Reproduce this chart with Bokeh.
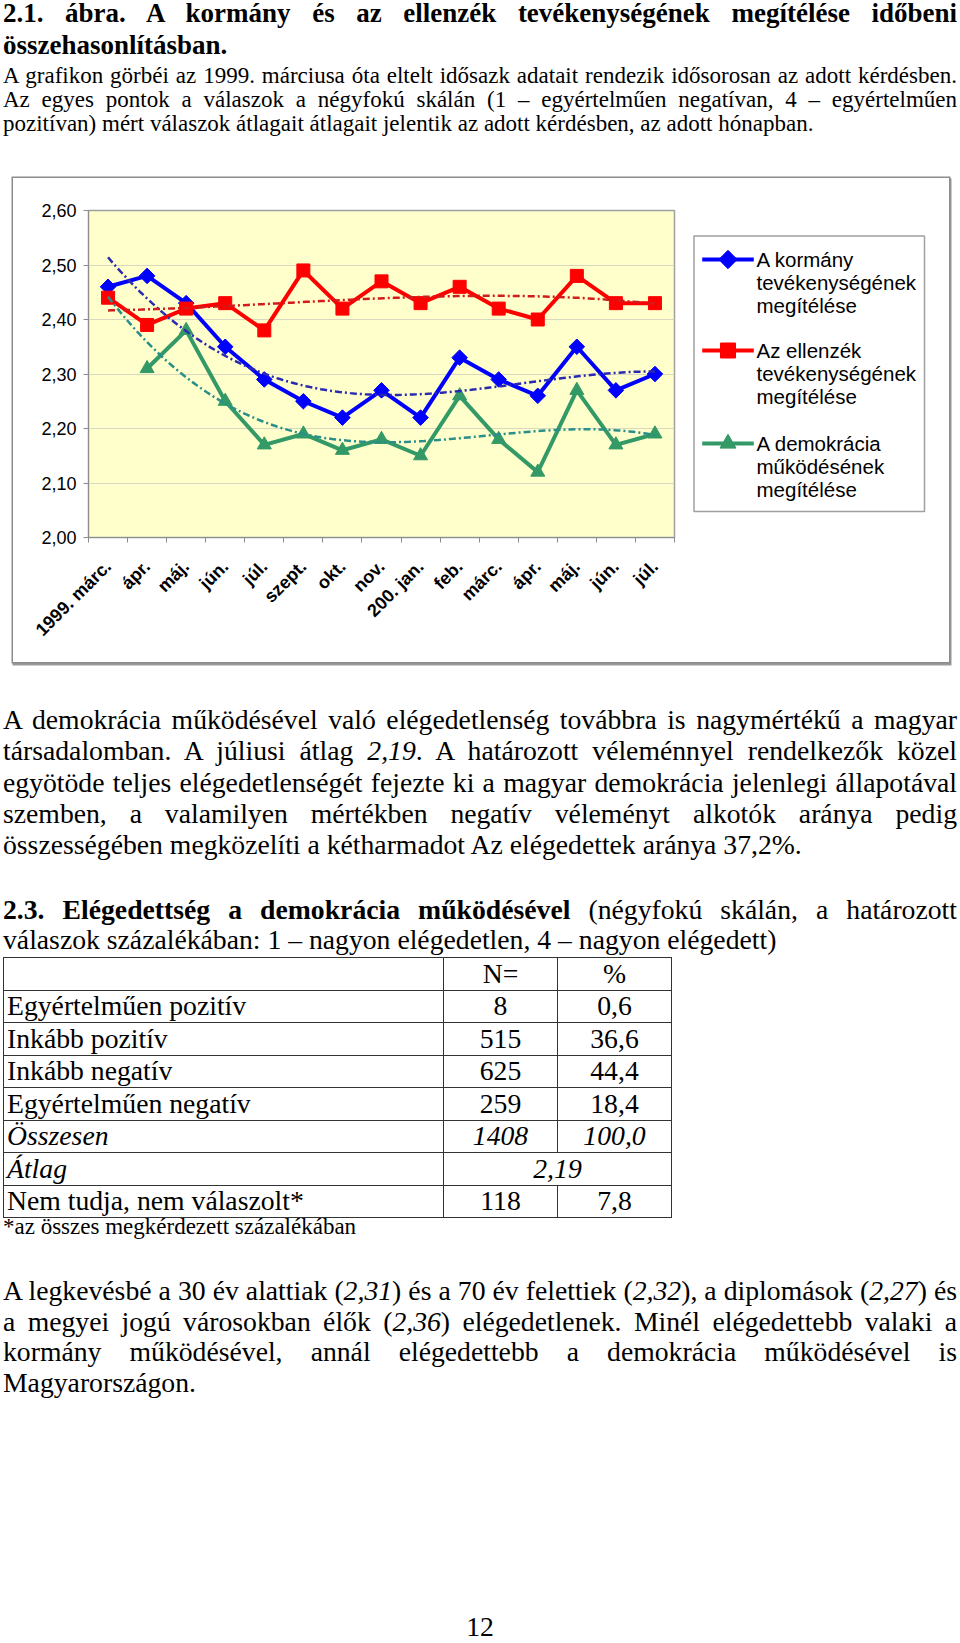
import numpy as np
from bokeh.plotting import figure
from bokeh.models import Range1d, FixedTicker, CustomJSTickFormatter, Div, ColumnDataSource
from bokeh.layouts import column, row
from bokeh.embed import file_html
from bokeh.resources import INLINE
from bokeh.core.properties import value

# ---------------- data ----------------
categories = ["1999. márc.", "ápr.", "máj.", "jún.", "júl.", "szept.", "okt.", "nov.",
              "200. jan.", "feb.", "márc.", "ápr.", "máj.", "jún.", "júl."]
kormany = [2.46, 2.48, 2.43, 2.35, 2.29, 2.25, 2.22, 2.27, 2.22, 2.33, 2.29, 2.26, 2.35, 2.27, 2.30]
ellenzek = [2.44, 2.39, 2.42, 2.43, 2.38, 2.49, 2.42, 2.47, 2.43, 2.46, 2.42, 2.40, 2.48, 2.43, 2.43]
demokracia = [None, 2.31, 2.38, 2.25, 2.17, 2.19, 2.16, 2.18, 2.15, 2.26, 2.18, 2.12, 2.27, 2.17, 2.19]
y_ticks = [2.0, 2.1, 2.2, 2.3, 2.4, 2.5, 2.6]
legend_labels = ["A kormány\ntevékenységének\nmegítélése",
                 "Az ellenzék\ntevékenységének\nmegítélése",
                 "A demokrácia\nműködésének\nmegítélése"]

table_labels = ["Egyértelműen pozitív", "Inkább pozitív", "Inkább negatív", "Egyértelműen negatív"]
table_n = ["8", "515", "625", "259"]
table_pct = ["0,6", "36,6", "44,4", "18,4"]
total_n, total_pct = "1408", "100,0"
atlag = "2,19"
nt_n, nt_pct = "118", "7,8"

# ---------------- styles ----------------
colors = ["#0000ff", "#ff0000", "#339966"]
trend_colors = ["#2a2ab0", "#d01c1c", "#2a8f8a"]
markers = [("square", 11, np.pi / 4), ("square", 13, 0.0), ("triangle", 14, 0.0)]
SANS = "Liberation Sans"

FIG_H = 484
B_TOP, B_BOT = 32, 125


def clean(v):
    return [np.nan if a is None else a for a in v]


def trend(vals, deg=3):
    pts = [(i + 1, v) for i, v in enumerate(vals) if v is not None]
    xs = np.array([a for a, _ in pts], float)
    ys = np.array([b for _, b in pts], float)
    coef = np.polyfit(xs, ys, deg)
    xd = np.linspace(1, len(vals), 150)
    return xd - 1, np.polyval(coef, xd)


x = list(range(len(categories)))
series = [kormany, ellenzek, demokracia]
src = ColumnDataSource(dict(x=x, s0=clean(kormany), s1=clean(ellenzek), s2=clean(demokracia)))

p = figure(width=671, height=FIG_H, x_range=Range1d(-0.5, len(categories) - 0.5),
           y_range=Range1d(2.0, 2.6), output_backend="svg", toolbar_location=None,
           min_border_left=75, min_border_right=10, min_border_top=B_TOP, min_border_bottom=B_BOT)
p.background_fill_color = "#ffffcc"
p.border_fill_color = "white"
p.outline_line_color = "#a0a0a0"
p.outline_line_width = 1.5
p.xgrid.visible = False
p.ygrid.ticker = FixedTicker(ticks=y_ticks)
p.ygrid.grid_line_color = "#d8d8c0"
p.ygrid.grid_line_width = 1

p.yaxis.ticker = FixedTicker(ticks=y_ticks)
p.yaxis.formatter = CustomJSTickFormatter(code="return tick.toFixed(2).replace('.', ',');")
p.yaxis.major_tick_out = 5
p.yaxis.major_tick_in = 0
p.yaxis.minor_tick_line_color = None
p.yaxis.axis_line_color = "#8c8c8c"
p.yaxis.major_tick_line_color = "#8c8c8c"
p.yaxis.major_label_text_font = SANS
p.yaxis.major_label_text_font_size = "18px"
p.yaxis.major_label_text_color = "#000000"
p.yaxis.major_label_standoff = 7

p.xaxis.ticker = FixedTicker(ticks=x, minor_ticks=[i - 0.5 for i in range(len(categories) + 1)])
p.xaxis.formatter = CustomJSTickFormatter(args=dict(labels=categories),
    code="const i = Math.round(tick); return (i >= 0 && i < labels.length) ? labels[i] : '';")
p.xaxis.major_tick_line_color = None
p.xaxis.minor_tick_out = 5
p.xaxis.minor_tick_in = 0
p.xaxis.minor_tick_line_color = "#8c8c8c"
p.xaxis.axis_line_color = "#8c8c8c"
p.xaxis.major_label_orientation = np.pi / 4
p.xaxis.major_label_text_font = SANS
p.xaxis.major_label_text_font_style = "bold"
p.xaxis.major_label_text_font_size = "18px"
p.xaxis.major_label_text_color = "#000000"
p.xaxis.major_label_standoff = 20

for i in range(3):
    p.line("x", f"s{i}", source=src, line_color=colors[i], line_width=4)
    m, sz, ang = markers[i]
    p.scatter("x", f"s{i}", source=src, marker=m, size=sz, angle=ang,
              fill_color=colors[i], line_color=colors[i])
for i in range(3):
    tx, ty = trend(series[i])
    p.line(tx, ty, line_color=trend_colors[i], line_width=2.5, line_dash="7 3 2 3")

# ---------------- legend (separate panel, pixel coordinates from panel top) ----------------
lg = figure(width=265, height=FIG_H, x_range=Range1d(0, 265), y_range=Range1d(FIG_H - B_BOT, B_TOP),
            output_backend="svg", toolbar_location=None, min_border_left=0, min_border_right=0,
            min_border_top=B_TOP, min_border_bottom=B_BOT)
lg.axis.visible = False
lg.grid.visible = False
lg.outline_line_color = None
lg.background_fill_color = "white"
lg.border_fill_color = "white"
lg.quad(left=[9.5], right=[240], top=[57.5], bottom=[333], fill_color="white",
        line_color="#a0a0a0", line_width=1.5)
entry_y = [81, 172, 265]
for i in range(3):
    yy = entry_y[i]
    lg.line([17.7, 69.3], [yy, yy], line_color=colors[i], line_width=4)
    m, sz, ang = markers[i]
    lg.scatter([43.5], [yy], marker=m, size=sz + 2, angle=ang,
               fill_color=colors[i], line_color=colors[i])
    lg.text([72], [yy - 12], text=[legend_labels[i]], text_baseline="top", text_align="left",
            text_font=value(SANS), text_font_size="20.5px", text_line_height=1.0,
            text_color="#000000")

chart = row(p, lg, margin=(0, 0, 0, 13),
            styles={"box-shadow": "0 0 0 1.5px #8c8c8c, 1px 2px 0 1.5px #9a9a9a"})

# ---------------- document text ----------------
SERIF = "'Liberation Serif', 'Times New Roman', serif"


def line(html, top, size, lh, justify=True, bold=False, left=3, width=954, center=False):
    st = (f"position:absolute;left:{left}px;top:{top}px;width:{width}px;height:{lh}px;"
          f"line-height:{lh}px;font-size:{size}px;")
    if center:
        st += "text-align:center;white-space:nowrap;"
    elif justify:
        st += "text-align:justify;text-align-last:justify;"
    else:
        st += "text-align:left;white-space:nowrap;"
    if bold:
        st += "font-weight:bold;"
    return f'<div style="{st}">{html}</div>'


BODY = 27.7

top_html = (
    f'<div style="position:relative;width:960px;height:178px;font-family:{SERIF};color:#000;">'
    + line("2.1. ábra. A kormány és az ellenzék tevékenységének megítélése időbeni", 0, 27, 26, bold=True)
    + line("összehasonlításban.", 31.5, 27, 26, justify=False, bold=True)
    + line("A grafikon görbéi az 1999. márciusa óta eltelt idősazk adatait rendezik idősorosan az adott kérdésben.", 63.5, 23, 24)
    + line("Az egyes pontok a válaszok a négyfokú skálán (1 – egyértelműen negatívan, 4 – egyértelműen", 87.6, 23, 24)
    + line("pozitívan) mért válaszok átlagait átlagait jelentik az adott kérdésben, az adott hónapban.", 111.7, 23, 24, justify=False)
    + "</div>"
)
top_div = Div(text=top_html, width=960, height=178, margin=0)

td_l = "border:1px solid #333;padding:0 0 0 3px;text-align:left;white-space:nowrap;"
td_c = "border:1px solid #333;padding:0;text-align:center;white-space:nowrap;"
rows_html = f'<tr style="height:32.5px"><td style="{td_l}"></td><td style="{td_c}">N=</td><td style="{td_c}">%</td></tr>'
for lab, n, pc in zip(table_labels, table_n, table_pct):
    rows_html += f'<tr style="height:32.5px"><td style="{td_l}">{lab}</td><td style="{td_c}">{n}</td><td style="{td_c}">{pc}</td></tr>'
rows_html += (f'<tr style="height:32.5px;font-style:italic"><td style="{td_l}">Összesen</td>'
              f'<td style="{td_c}">{total_n}</td><td style="{td_c}">{total_pct}</td></tr>')
rows_html += (f'<tr style="height:32.5px;font-style:italic"><td style="{td_l}">Átlag</td>'
              f'<td style="{td_c}" colspan="2">{atlag}</td></tr>')
rows_html += (f'<tr style="height:32.5px"><td style="{td_l}">Nem tudja, nem válaszolt*</td>'
              f'<td style="{td_c}">{nt_n}</td><td style="{td_c}">{nt_pct}</td></tr>')
table_html = (
    f'<table style="position:absolute;left:3px;top:295px;border-collapse:collapse;table-layout:fixed;'
    f'width:668px;font-size:{BODY}px;line-height:30px;">'
    '<colgroup><col style="width:440px"><col style="width:114px"><col style="width:114px"></colgroup>'
    + rows_html + "</table>"
)

BOT_H = 981
bottom_html = (
    f'<div style="position:relative;width:960px;height:{BOT_H}px;font-family:{SERIF};color:#000;">'
    + line("A demokrácia működésével való elégedetlenség továbbra is nagymértékű a magyar", 42, BODY, 31)
    + line("társadalomban. A júliusi átlag <i>2,19</i>. A határozott véleménnyel rendelkezők közel", 73.25, BODY, 31)
    + line("egyötöde teljes elégedetlenségét fejezte ki a magyar demokrácia jelenlegi állapotával", 104.5, BODY, 31)
    + line("szemben, a valamilyen mértékben negatív véleményt alkotók aránya pedig", 135.75, BODY, 31)
    + line("összességében megközelíti a kétharmadot Az elégedettek aránya 37,2%.", 167, BODY, 31, justify=False)
    + line("<b>2.3. Elégedettség a demokrácia működésével</b> (négyfokú skálán, a határozott", 232, BODY, 31)
    + line("válaszok százalékában: 1 – nagyon elégedetlen, 4 – nagyon elégedett)", 262, BODY, 31, justify=False)
    + table_html
    + line("*az összes megkérdezett százalékában", 553, 23, 24, justify=False)
    + line("A legkevésbé a 30 év alattiak (<i>2,31</i>) és a 70 év felettiek (<i>2,32</i>), a diplomások (<i>2,27</i>) és", 614, BODY, 30.5)
    + line("a megyei jogú városokban élők (<i>2,36</i>) elégedetlenek. Minél elégedettebb valaki a", 644.5, BODY, 30.5)
    + line("kormány működésével, annál elégedettebb a demokrácia működésével is", 675, BODY, 30.5)
    + line("Magyarországon.", 705.5, BODY, 30.5, justify=False)
    + line("12", 952, BODY, 26, center=True, left=0, width=960)
    + "</div>"
)
bottom_div = Div(text=bottom_html, width=960, height=BOT_H, margin=0)

layout = column(top_div, chart, bottom_div, spacing=0, margin=0)

with open("out.html", "w") as f:
    f.write(file_html(layout, INLINE))
